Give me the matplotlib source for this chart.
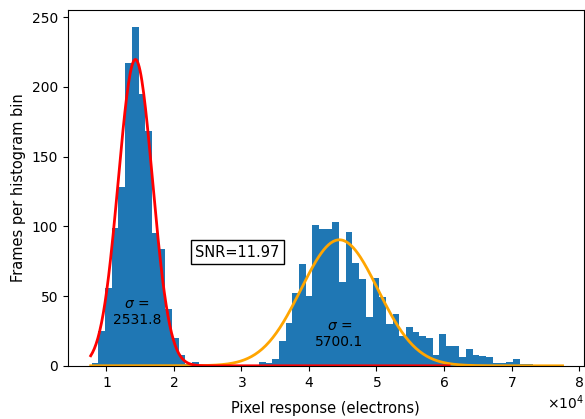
import numpy as np
import matplotlib
matplotlib.use("Agg")
import matplotlib.pyplot as plt

# histogram (electrons)
first_edge = 7830
bin_width = 990
counts = [2, 25, 56, 99, 128, 217, 243, 195, 168, 95, 84, 41, 20, 8, 1, 3,
          0, 0, 0, 0, 0, 0, 0, 0, 0,
          3, 2, 5, 18, 31, 52, 73, 50, 101, 98, 98, 103, 60, 96, 74, 62, 35,
          63, 49, 30, 37, 21, 28, 24, 21, 20, 8, 23, 14, 14, 6, 12, 8, 7, 6,
          2, 2, 3, 5, 1, 1]

# gaussian fits
dark_mu, dark_sigma, dark_amp = 14300, 2531.8, 219.6
light_mu, light_sigma, light_amp = 44510, 5700.1, 90.3
dark_range = (7680, 60750)
light_range = (7680, 77550)
snr = 11.97

def gauss(x, a, mu, s):
    return a * np.exp(-(x - mu) ** 2 / (2 * s ** 2))

fig = plt.figure(figsize=(5.85, 4.19), dpi=100)
ax = fig.add_axes([0.116, 0.127, 0.882, 0.849])

lefts = first_edge + bin_width * np.arange(len(counts))
ax.bar(lefts, counts, width=bin_width, align='edge', color='#1f77b4')

xl = np.linspace(*light_range, 400)
ax.plot(xl, gauss(xl, light_amp, light_mu, light_sigma), color='orange', lw=2)
xd = np.linspace(*dark_range, 400)
ax.plot(xd, gauss(xd, dark_amp, dark_mu, dark_sigma), color='red', lw=2)

ax.text(dark_mu + 200, 38.8, '$\\sigma$ =\n%.1f' % dark_sigma, ha='center', va='center', fontsize=10)
ax.text(light_mu, 23, '$\\sigma$ =\n%.1f' % light_sigma, ha='center', va='center', fontsize=10)
ax.text(29400, 81.5, 'SNR=%.2f' % snr, ha='center', va='center', fontsize=10.5,
        bbox=dict(facecolor='white', edgecolor='black', boxstyle='square,pad=0.3'))

ax.set_xlim(4300, 80700)
ax.set_ylim(0, 255)
ax.ticklabel_format(axis='x', style='sci', scilimits=(0, 0), useMathText=True)
ax.set_xlabel('Pixel response (electrons)', fontsize=10.5, labelpad=8)
ax.set_ylabel('Frames per histogram bin', fontsize=10.5)

fig.savefig('out.png', dpi=100)
